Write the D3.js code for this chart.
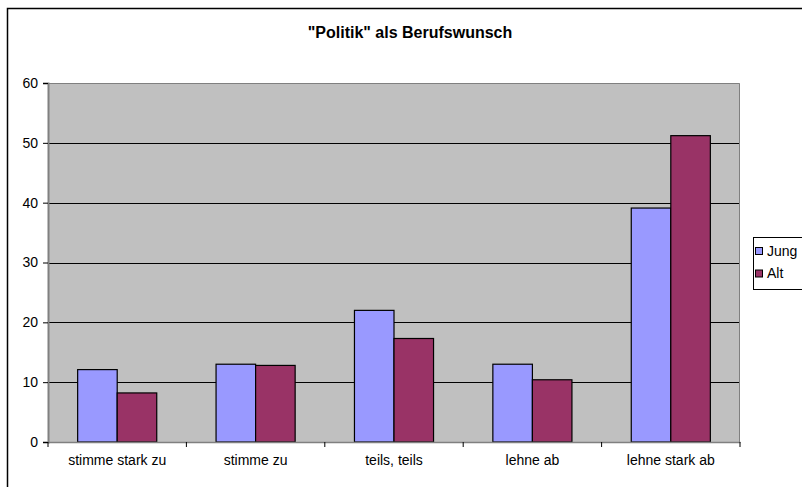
<!DOCTYPE html>
<html><head><meta charset="utf-8">
<script src="https://cdn.jsdelivr.net/npm/d3@7"></script>
<style>body{margin:0;background:#fff}svg{display:block}text{font-family:"Liberation Sans",Arial,sans-serif}</style>
</head><body>
<svg id="c" width="802" height="487"></svg>
<script>
const title = '"Politik" als Berufswunsch';
const categories = ["stimme stark zu","stimme zu","teils, teils","lehne ab","lehne stark ab"];
const seriesNames = ["Jung","Alt"];
const jung = [12.1, 13.0, 22.0, 13.0, 39.1];
const alt = [8.2, 12.8, 17.3, 10.4, 51.2];
const yTicks = [0,10,20,30,40,50,60];
const colors = ["#9999FF","#993366"];

const svg = d3.select("#c");
const L=48, R=740, T=83, B=442;
// outer frame
svg.append("rect").attr("x",7.5).attr("y",8.5).attr("width",820).attr("height",500)
  .attr("fill","#fff").attr("stroke","#000").attr("stroke-width",1.5);
svg.append("text").attr("x",410).attr("y",38).attr("text-anchor","middle")
  .attr("font-size",16).attr("font-weight","bold").text(title);

const x = d3.scaleBand().domain(categories).range([L,R]);
const xs = d3.scaleBand().domain(seriesNames).range([0,x.bandwidth()]).paddingInner(0).paddingOuter(0.75);
const y = d3.scaleLinear().domain([0,60]).range([B,T]);

svg.append("rect").attr("x",L).attr("y",T).attr("width",R-L).attr("height",B-T).attr("fill","#C0C0C0");
// gridlines
svg.append("g").selectAll("line").data(yTicks.filter(d=>d>0&&d<60)).join("line")
  .attr("x1",L).attr("x2",R).attr("y1",d=>Math.round(y(d))+0.5).attr("y2",d=>Math.round(y(d))+0.5)
  .attr("stroke","#000").attr("stroke-width",1);
// plot border top/right
svg.append("path").attr("d",`M${L},${T+0.5}H${R-0.5}V${B}`).attr("fill","none").attr("stroke","#808080").attr("stroke-width",1);

const data = categories.map((c,i)=>({c, vals:[jung[i],alt[i]]}));
const g = svg.append("g");
data.forEach(d=>{
  g.selectAll(null).data(d.vals.map((v,j)=>({v,s:seriesNames[j],j}))).join("rect")
   .attr("x",e=>x(d.c)+xs(e.s)).attr("width",xs.bandwidth())
   .attr("y",e=>y(e.v)).attr("height",e=>B-y(e.v))
   .attr("fill",e=>colors[e.j]).attr("stroke","#000").attr("stroke-width",1.2);
});

// y axis
const yAxis = d3.axisLeft(y).tickValues(yTicks).tickSize(5).tickPadding(5);
const ya = svg.append("g").attr("transform",`translate(${L},0)`).call(yAxis);
ya.select(".domain").attr("stroke","#808080").attr("stroke-width",2);
ya.selectAll(".tick line").attr("stroke","#000");
ya.selectAll("text").attr("font-size",14).attr("fill","#000").attr("font-family","Liberation Sans, Arial, sans-serif");

// x axis
const xa = svg.append("g").attr("transform",`translate(0,${B})`).call(d3.axisBottom(x).tickSize(0).tickPadding(13));
xa.select(".domain").attr("stroke","#808080").attr("stroke-width",1.5);
xa.selectAll("text").attr("font-size",14).attr("fill","#000").attr("font-family","Liberation Sans, Arial, sans-serif");
svg.append("g").selectAll("line").data(d3.range(categories.length+1)).join("line")
  .attr("x1",i=>L+i*x.step()).attr("x2",i=>L+i*x.step()).attr("y1",B).attr("y2",B+5)
  .attr("stroke","#000");

// legend
const lg = svg.append("g");
lg.append("rect").attr("x",753.5).attr("y",237.5).attr("width",80).attr("height",52)
  .attr("fill","#fff").attr("stroke","#000");
seriesNames.forEach((s,i)=>{
  lg.append("rect").attr("x",755.5).attr("y",247.5+i*22.5).attr("width",7).attr("height",7)
    .attr("fill",colors[i]).attr("stroke","#000");
  lg.append("text").attr("x",767).attr("y",255.5+i*22.5).attr("font-size",14).text(s);
});
</script>
</body></html>
